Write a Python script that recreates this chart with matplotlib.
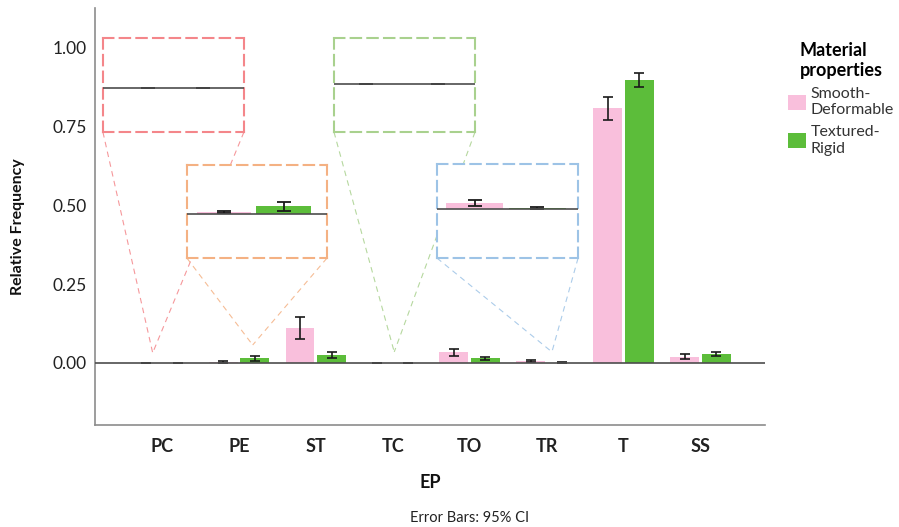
import numpy as np
import matplotlib.pyplot as plt
from matplotlib.patches import Patch

plt.rcParams['font.family'] = ['Lato', 'DejaVu Sans']

# data
categories = ['PC', 'PE', 'ST', 'TC', 'TO', 'TR', 'T', 'SS']
smooth = [0.0, 0.003, 0.111, 0.0, 0.035, 0.007, 0.810, 0.020]
smooth_lo = [0.0, 0.001, 0.076, 0.0, 0.022, 0.003, 0.770, 0.013]
smooth_hi = [0.0, 0.005, 0.146, 0.0, 0.045, 0.010, 0.845, 0.028]
textured = [0.0, 0.015, 0.025, 0.0, 0.016, 0.001, 0.898, 0.028]
textured_lo = [0.0, 0.006, 0.016, 0.0, 0.010, 0.0, 0.876, 0.022]
textured_hi = [0.0, 0.022, 0.035, 0.0, 0.019, 0.002, 0.920, 0.035]
series_names = ['Smooth-\nDeformable', 'Textured-\nRigid']

pink = '#F9BFDC'
green = '#5CBD3A'
off = 0.205
bw = 0.375

x = np.arange(len(categories))
s = np.array(smooth)
t = np.array(textured)
s_err = [s - np.array(smooth_lo), np.array(smooth_hi) - s]
t_err = [t - np.array(textured_lo), np.array(textured_hi) - t]


def draw_bars(a, capsize, lw):
    a.bar(x - off, s, bw, color=pink, zorder=2)
    a.bar(x + off, t, bw, color=green, zorder=2)
    a.errorbar(x - off, s, yerr=s_err, fmt='none', ecolor='#1a1a1a',
               capsize=capsize, elinewidth=lw, capthick=lw, zorder=3)
    a.errorbar(x + off, t, yerr=t_err, fmt='none', ecolor='#1a1a1a',
               capsize=capsize, elinewidth=lw, capthick=lw, zorder=3)
    a.axhline(0, color='#4d4d4d', lw=1.2, zorder=4)


fig = plt.figure(figsize=(8.99, 5.27), dpi=100)
ax = fig.add_axes([95 / 899, 1 - 425 / 527, 670 / 899, 417 / 527])
draw_bars(ax, 3.8, 1.2)

ax.set_xlim(-0.87, 7.84)
ax.set_ylim(-0.197, 1.127)
ax.set_yticks([0, 0.25, 0.5, 0.75, 1.0])
ax.set_yticklabels(['0.00', '0.25', '0.50', '0.75', '1.00'], fontsize=12.5, color='#222222')
ax.set_xticks(x)
ax.set_xticklabels(categories, fontsize=13, fontweight='bold', color='#222222')
ax.tick_params(axis='both', length=0)
ax.tick_params(axis='x', pad=9)
ax.tick_params(axis='y', pad=6)
for sp in ['top', 'right']:
    ax.spines[sp].set_visible(False)
for sp in ['left', 'bottom']:
    ax.spines[sp].set_color('#8c8c8c')
    ax.spines[sp].set_linewidth(1.2)

# zoom insets: category index, colour, box in data coords, inset limits, target point
insets = [
    (0, '#F4868A', (-0.767, 0.733, 1.833, 0.299), (-0.54, 0.51), (-0.083, 0.094), (-0.12, 0.032)),
    (1, '#F4B183', (0.325, 0.333, 1.821, 0.296), (0.542, 1.50), (-0.083, 0.092), (1.18, 0.057)),
    (3, '#A9D18E', (2.237, 0.733, 1.833, 0.299), (2.615, 3.415), (-0.090, 0.086), (3.02, 0.035)),
    (5, '#9DC3E6', (3.576, 0.333, 1.834, 0.299), (4.545, 5.475), (-0.057, 0.0525), (5.07, 0.035)),
]
for idx, col, box, xl, yl, tgt in insets:
    bx, by, bwid, bh = box
    for cx in (bx, bx + bwid):
        ax.plot([cx, tgt[0]], [by, tgt[1]], ls=(0, (5, 4)), color=col, lw=0.8,
                alpha=0.85, zorder=1, clip_on=False)
    ia = ax.inset_axes([bx, by, bwid, bh], transform=ax.transData)
    draw_bars(ia, 5, 1.3)
    ia.set_xlim(*xl)
    ia.set_ylim(*yl)
    ia.set_xticks([])
    ia.set_yticks([])
    for sp in ia.spines.values():
        sp.set_color(col)
        sp.set_linestyle((0, (5, 3)))
        sp.set_linewidth(1.5)

fig.text(18 / 899, 1 - 227 / 527, 'Relative Frequency', rotation=90, ha='center', va='center',
         fontsize=11.5, fontweight='bold', color='#111111')
fig.text(430 / 899, 1 - 483 / 527, 'EP', ha='center', va='center',
         fontsize=13, fontweight='bold', color='#111111')
fig.text(470 / 899, 1 - 518 / 527, 'Error Bars: 95% CI', ha='center', va='center',
         fontsize=10.5, color='#222222')

handles = [Patch(facecolor=pink), Patch(facecolor=green)]
leg = fig.legend(handles, series_names, loc='upper left', bbox_to_anchor=(774 / 899, 1 - 28 / 527),
                 frameon=False, fontsize=11.5, title='Material\nproperties',
                 title_fontproperties={'weight': 'bold', 'size': 13},
                 handlelength=1.1, handleheight=1.05, handletextpad=0.3, labelspacing=0.5)
for txt in leg.get_texts():
    txt.set_color('#333333')

fig.savefig('out.png', dpi=100)
